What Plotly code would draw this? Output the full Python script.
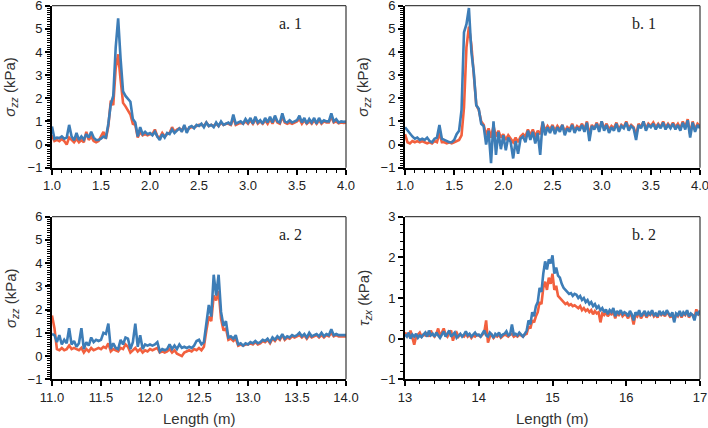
import numpy as np
import plotly.graph_objects as go

# ---------------- data ----------------
# sample positions (m), uniformly sampled records
length_a1 = np.round(np.arange(1.0, 4.0001, 0.025), 3)
length_b1 = np.round(np.arange(1.0, 4.0001, 0.025), 3)
length_a2 = np.round(np.arange(11.0, 14.0001, 0.025), 3)
length_b2 = np.round(np.arange(13.0, 17.0001, 0.025), 3)

a1_blue = [0.78, 0.25, 0.30, 0.28, 0.35, 0.25, 0.30, 0.85, 0.35, 0.18,
           0.50, 0.20, 0.35, 0.22, 0.45, 0.30, 0.55, 0.30, 0.20, 0.20,
           0.25, 0.35, 0.30, 0.90, 1.75, 2.10, 4.20, 5.45, 3.70, 2.30,
           2.10, 1.95, 1.85, 1.10, 0.95, 0.35, 0.75, 0.45, 0.55, 0.45,
           0.50, 0.40, 0.55, 0.35, 0.20, 0.45, 0.30, 0.50, 0.45, 0.65,
           0.50, 0.60, 0.70, 0.55, 0.85, 0.50, 0.75, 0.80, 0.70, 0.85,
           0.80, 0.90, 0.75, 0.95, 0.80, 0.85, 0.75, 0.95, 0.80, 1.00,
           0.85, 0.90, 0.95, 0.85, 1.30, 0.90, 0.95, 1.00, 0.90, 1.10,
           0.95, 1.15, 0.90, 1.20, 0.95, 1.05, 0.90, 1.15, 0.95, 1.20,
           0.95, 1.25, 1.00, 0.95, 1.35, 1.00, 0.95, 1.05, 0.95, 1.00,
           1.05, 1.25, 0.95, 1.15, 0.90, 1.10, 0.95, 1.15, 0.90, 1.15,
           0.95, 1.05, 1.00, 1.00, 1.35, 1.00, 1.10, 0.95, 1.00, 0.98,
           1.00]
a1_red = [0.40, 0.15, 0.20, 0.15, 0.25, 0.15, 0.00, 0.30, 0.20, 0.10,
          0.25, 0.10, 0.20, 0.10, 0.55, 0.20, 0.35, 0.15, 0.10, 0.15,
          0.35, 0.55, 0.25, 0.80, 1.90, 1.70, 3.30, 3.90, 2.80, 1.80,
          1.65, 1.50, 1.30, 0.90, 0.85, 0.30, 0.55, 0.40, 0.45, 0.40,
          0.45, 0.45, 0.65, 0.35, 0.30, 0.50, 0.35, 0.45, 0.50, 0.75,
          0.55, 0.65, 0.70, 0.60, 0.80, 0.60, 0.70, 0.75, 0.75, 0.80,
          0.85, 0.85, 0.80, 0.95, 0.80, 0.85, 0.80, 0.90, 0.80, 0.95,
          0.85, 0.90, 0.90, 0.85, 1.15, 0.85, 0.90, 0.95, 0.90, 1.00,
          0.90, 1.05, 0.90, 1.10, 0.90, 1.00, 0.90, 1.05, 0.90, 1.10,
          0.90, 1.15, 0.95, 0.90, 1.20, 0.95, 0.90, 0.95, 0.90, 0.95,
          1.00, 1.10, 0.90, 1.05, 0.90, 1.00, 0.90, 1.05, 0.90, 1.05,
          0.90, 1.00, 0.95, 0.95, 1.20, 0.95, 1.00, 0.92, 0.95, 0.93,
          0.95]

b1_blue = [0.75, 0.60, 0.50, 0.35, 0.25, 0.30, 0.20, 0.25, 0.20, 0.30,
           0.15, 0.10, 0.25, 0.30, 0.85, 0.25, 0.20, 0.15, 0.10, 0.10,
           0.20, 0.45, 0.60, 1.50, 4.85, 5.20, 5.90, 4.00, 3.10, 1.70,
           1.55, 0.90, 0.80, 0.00, 0.60, -0.80, 1.00, -0.45, 0.55, -0.20,
           0.40, -0.25, 0.30, 0.10, -0.60, 0.15, -0.40, 0.25, 0.35, 0.10,
           0.60, 0.20, 0.55, 0.05, 0.50, -0.45, 1.00, 0.40, 0.75, 0.50,
           0.80, 0.45, 0.75, 0.55, 0.85, 0.40, 0.70, 0.55, 0.85, 0.50,
           0.75, 0.60, 0.85, 0.55, 0.95, 0.15, 0.80, 0.65, 0.90, 0.55,
           1.00, 0.60, 0.85, 0.50, 0.75, 0.60, 0.90, 0.55, 0.80, 0.70,
           0.95, 0.60, 0.80, 0.70, 0.20, 0.85, 0.70, 1.00, 0.60, 0.85,
           0.75, 0.90, 0.65, 0.85, 0.70, 0.95, 0.65, 0.85, 0.70, 0.90,
           0.65, 0.85, 0.60, 0.95, 0.65, 1.05, 0.30, 0.95, 0.55, 0.85,
           0.70]
b1_red = [0.45, 0.10, 0.05, 0.15, 0.10, 0.15, 0.10, 0.15, 0.10, 0.05,
          0.10, 0.05, 0.15, 0.10, 0.50, 0.10, 0.10, 0.05, 0.10, 0.05,
          0.10, 0.15, 0.20, 0.40, 1.60, 4.20, 5.10, 4.30, 3.00, 1.70,
          1.50, 1.00, 0.85, 0.40, 0.70, 0.30, 0.80, 0.35, 0.60, 0.30,
          0.45, 0.20, 0.40, 0.25, 0.10, 0.30, 0.10, 0.35, 0.45, 0.35,
          0.65, 0.40, 0.65, 0.35, 0.60, 0.45, 0.95, 0.60, 0.80, 0.65,
          0.85, 0.60, 0.80, 0.65, 0.85, 0.55, 0.75, 0.65, 0.90, 0.60,
          0.80, 0.70, 0.90, 0.65, 1.00, 0.40, 0.85, 0.70, 0.95, 0.65,
          1.00, 0.70, 0.90, 0.65, 0.80, 0.70, 0.95, 0.65, 0.85, 0.75,
          1.00, 0.70, 0.85, 0.75, 0.40, 0.90, 0.75, 1.00, 0.70, 0.90,
          0.80, 0.95, 0.75, 0.90, 0.75, 1.00, 0.75, 0.90, 0.75, 0.95,
          0.75, 0.90, 0.70, 1.00, 0.75, 1.10, 0.45, 1.00, 0.65, 0.90,
          0.80]

a2_blue = [0.95, 0.90, 0.60, 0.90, 0.50, 0.70, 0.55, 1.20, 0.50, 0.65,
           0.40, 0.55, 1.20, 0.30, 0.60, 0.45, 0.80, 0.60, 0.70, 0.65,
           0.70, 1.00, 0.95, 1.40, 0.30, 0.55, 0.35, 0.30, 0.70, 0.50,
           0.80, 0.75, 0.30, 0.60, 1.40, 0.40, 0.90, 0.30, 0.50, 0.45,
           0.50, 0.45, 0.50, 0.60, 0.20, 0.30, 0.25, 0.30, 0.50, 0.30,
           0.45, 0.30, 0.50, 0.35, 0.40, 0.35, 0.40, 0.35, 0.45, 0.65,
           0.70, 0.50, 0.60, 1.40, 2.20, 1.70, 3.50, 2.60, 3.50, 1.90,
           1.30, 1.50, 0.80, 0.85, 0.75, 0.90, 0.50, 0.55, 0.45, 0.55,
           0.50, 0.60, 0.55, 0.65, 0.55, 0.60, 0.70, 0.65, 0.75, 0.60,
           0.80, 0.70, 0.85, 0.75, 0.95, 0.75, 0.85, 0.80, 0.90, 0.85,
           0.90, 1.00, 0.85, 0.95, 0.80, 1.00, 0.85, 0.90, 0.95, 0.85,
           1.00, 0.85, 0.95, 0.90, 1.15, 0.90, 0.95, 0.90, 0.90, 0.92,
           0.90]
a2_red = [1.75, 1.20, 0.30, 0.25, 0.35, 0.25, 0.30, 0.45, 0.30, 0.35,
          0.30, 0.25, 0.35, 0.15, 0.30, 0.20, 0.35, 0.25, 0.30, 0.35,
          0.30, 0.40, 0.35, 0.55, 0.20, 0.30, 0.25, 0.20, 0.35, 0.30,
          0.50, 0.40, 0.15, 0.25, 0.35, 0.20, 0.30, 0.15, 0.25, 0.20,
          0.30, 0.25, 0.30, 0.35, 0.15, 0.20, 0.15, 0.20, 0.30, 0.15,
          0.25, 0.10, 0.05, 0.00, 0.15, 0.20, 0.25, 0.20, 0.30, 0.25,
          0.35, 0.25, 0.40, 1.10, 1.70, 1.50, 2.60, 2.40, 2.80, 1.60,
          1.10, 1.20, 0.70, 0.75, 0.65, 0.75, 0.45, 0.50, 0.45, 0.50,
          0.50, 0.55, 0.50, 0.60, 0.50, 0.55, 0.65, 0.60, 0.70, 0.55,
          0.75, 0.65, 0.80, 0.70, 0.90, 0.70, 0.80, 0.75, 0.85, 0.80,
          0.85, 0.90, 0.80, 0.90, 0.75, 0.90, 0.80, 0.85, 0.90, 0.80,
          0.90, 0.80, 0.90, 0.85, 1.00, 0.85, 0.90, 0.85, 0.85, 0.87,
          0.85]

b2_blue = [0.10, 0.05, 0.15, 0.00, 0.10, 0.05, 0.12, 0.02, 0.08, 0.04,
           0.10, 0.15, 0.05, 0.20, 0.08, 0.12, 0.05, 0.15, 0.08, 0.02, 0.10,
           0.18, 0.05, 0.12, 0.20, 0.05, 0.10, 0.15, 0.02, 0.08, 0.12,
           0.05, 0.10, 0.18, 0.08, 0.12, 0.05, 0.10, 0.15, 0.08, 0.10,
           0.05, 0.12, 0.20, 0.08, 0.05, 0.15, 0.10, 0.02, 0.12, 0.08,
           0.15, 0.05, 0.10, 0.12, 0.18, 0.08, 0.10, 0.35, 0.10, 0.12,
           0.08, 0.15, 0.10, 0.05, 0.12, 0.20, 0.45, 0.35, 0.65, 0.55,
           0.80, 0.90, 1.25, 1.15, 1.60, 1.90, 1.70, 1.95, 1.85, 2.05,
           1.60, 1.75, 1.55, 1.50, 1.35, 1.25, 1.20, 1.15, 1.10, 1.12,
           1.05, 1.10, 1.08, 1.00, 1.05, 0.95, 1.00, 0.90, 0.95, 0.85,
           0.90, 0.80, 0.85, 0.75, 0.80, 0.70, 0.75, 0.65, 0.72, 0.60,
           0.70, 0.65, 0.75, 0.55, 0.68, 0.62, 0.70, 0.60, 0.65, 0.62,
           0.55, 0.68, 0.60, 0.45, 0.65, 0.58, 0.70, 0.55, 0.62, 0.68,
           0.55, 0.65, 0.60, 0.70, 0.58, 0.62, 0.55, 0.68, 0.60, 0.65,
           0.58, 0.70, 0.62, 0.55, 0.65, 0.40, 0.62, 0.58, 0.68, 0.55,
           0.65, 0.60, 0.70, 0.55, 0.62, 0.58, 0.45, 0.65, 0.60, 0.70,
           0.50]
b2_red = [0.15, 0.10, 0.05, 0.20, 0.00, -0.15, 0.05, 0.10, 0.15, 0.05,
          0.10, 0.08, 0.15, 0.05, 0.20, 0.10, 0.05, 0.12, 0.25, 0.05, 0.15,
          0.25, 0.10, 0.05, 0.15, 0.20, -0.05, 0.10, 0.15, 0.05, 0.10,
          0.08, 0.05, 0.12, 0.05, 0.10, 0.02, 0.08, 0.05, 0.10, 0.08,
          0.05, 0.10, 0.15, 0.45, -0.10, 0.05, 0.10, 0.02, 0.08, 0.05,
          0.10, 0.02, 0.05, 0.10, 0.08, 0.05, 0.10, 0.12, 0.05, 0.08,
          0.05, 0.10, 0.08, 0.05, 0.10, 0.12, 0.30, 0.25, 0.45, 0.40,
          0.55, 0.65, 0.90, 0.85, 1.25, 1.40, 1.20, 1.50, 1.35, 1.60,
          1.20, 1.30, 1.05, 1.00, 0.95, 0.90, 0.85, 0.88, 0.82, 0.85,
          0.80, 0.82, 0.78, 0.75, 0.80, 0.70, 0.75, 0.68, 0.72, 0.65,
          0.70, 0.60, 0.68, 0.62, 0.65, 0.40, 0.62, 0.58, 0.65, 0.55,
          0.62, 0.60, 0.68, 0.50, 0.62, 0.58, 0.65, 0.55, 0.60, 0.58,
          0.50, 0.62, 0.55, 0.35, 0.60, 0.55, 0.65, 0.50, 0.58, 0.62,
          0.52, 0.60, 0.58, 0.65, 0.55, 0.60, 0.52, 0.65, 0.58, 0.62,
          0.55, 0.65, 0.60, 0.52, 0.62, 0.45, 0.60, 0.55, 0.65, 0.52,
          0.62, 0.58, 0.68, 0.52, 0.60, 0.58, 0.50, 0.72, 0.58, 0.65,
          0.60]

panel_labels = ["a. 1", "b. 1", "a. 2", "b. 2"]
y_titles = ["<i>σ<sub>zz</sub></i> (kPa)", "<i>σ<sub>zz</sub></i> (kPa)",
            "<i>σ<sub>zz</sub></i> (kPa)", "<i>τ<sub>zx</sub></i> (kPa)"]
x_title = "Length (m)"

RED = "#F2603E"
BLUE = "#3D7DB7"

# ---------------- figure ----------------
W, H = 708, 428
panels = [
    # x, red, blue, xdomain(px), ydomain(px top,bottom), xrange, xdtick, xminor, xfmt, yrange, yminor
    (length_a1, a1_red, a1_blue, (52, 346), (5.7, 167.7), [1, 4], 0.5, 0.1, ".1f", [-1, 6], 0.1),
    (length_b1, b1_red, b1_blue, (405, 700), (5.7, 167.7), [1, 4], 0.5, 0.1, ".1f", [-1, 6], 0.1),
    (length_a2, a2_red, a2_blue, (52, 346), (216.7, 379.3), [11, 14], 0.5, 0.1, ".1f", [-1, 6], 0.1),
    (length_b2, b2_red, b2_blue, (405, 700), (216.7, 379.3), [13, 17], 1, 0.2, "d", [-1, 3], 0.2),
]

fig = go.Figure()
layout = dict(
    template="none",
    width=W, height=H, margin=dict(l=0, r=0, t=0, b=0, pad=0, autoexpand=False),
    paper_bgcolor="white", plot_bgcolor="white", showlegend=False,
    font=dict(family="Liberation Sans, Arial, sans-serif", size=13, color="#222"),
)
annotations = []
shapes = []
for k, (xs, red, blue, xd, yd, xr, xdt, xmn, xfmt, yr, ymn) in enumerate(panels):
    n = "" if k == 0 else str(k + 1)
    xa, ya = "x" + n, "y" + n
    fig.add_trace(go.Scatter(x=xs, y=red, mode="lines", xaxis=xa, yaxis=ya,
                             line=dict(color=RED, width=2.6)))
    fig.add_trace(go.Scatter(x=xs, y=blue, mode="lines", xaxis=xa, yaxis=ya,
                             line=dict(color=BLUE, width=2.6)))
    common = dict(showgrid=False, zeroline=False, showline=True, linecolor="black",
                  linewidth=2, ticks="outside", ticklen=5, tickwidth=2, tickcolor="black",
                  automargin=False, ticklabeloverflow="allow",
                  tickfont=dict(size=13, color="#222"))
    layout["xaxis" + n] = dict(
        domain=[xd[0] / W, xd[1] / W], anchor=ya, range=xr, dtick=xdt, tick0=xr[0],
        tickformat=xfmt,
        minor=dict(dtick=xmn, ticks="outside", ticklen=3, tickwidth=1, tickcolor="black"),
        **common)
    layout["yaxis" + n] = dict(
        domain=[1 - yd[1] / H, 1 - yd[0] / H], anchor=xa, range=yr, dtick=1, tick0=0,
        minor=dict(dtick=ymn, ticks="outside", ticklen=3, tickwidth=1, tickcolor="black"),
        **common)
    # top & right frame lines
    shapes.append(dict(type="line", xref=xa + " domain", yref=ya + " domain",
                       x0=0, x1=1, y0=1, y1=1, line=dict(color="#444", width=1.3)))
    shapes.append(dict(type="line", xref=xa + " domain", yref=ya + " domain",
                       x0=1, x1=1, y0=0, y1=1, line=dict(color="#444", width=1.3)))
    # panel label
    cx = xd[0] + (xd[1] - xd[0]) * 0.81
    annotations.append(dict(text=panel_labels[k], x=cx / W, y=1 - (yd[0] + 17.5) / H,
                            xref="paper", yref="paper", showarrow=False,
                            xanchor="center", yanchor="middle",
                            font=dict(family="Liberation Serif, Times New Roman, serif",
                                      size=16, color="#222")))
    # y title
    annotations.append(dict(text=y_titles[k], x=(xd[0] - 41) / W, y=1 - (yd[0] + yd[1]) / 2 / H,
                            xref="paper", yref="paper", showarrow=False, textangle=-90,
                            xanchor="center", yanchor="middle",
                            font=dict(size=15, color="#333")))
    if k >= 2:
        annotations.append(dict(text=x_title, x=(xd[0] + xd[1]) / 2 / W, y=1 - 418 / H,
                                xref="paper", yref="paper", showarrow=False,
                                xanchor="center", yanchor="middle",
                                font=dict(size=15, color="#333")))

layout["annotations"] = annotations
layout["shapes"] = shapes
fig.update_layout(**layout)
fig.write_html("out.html", config={"displayModeBar": False},
               post_script="document.body.style.margin='0px';")
